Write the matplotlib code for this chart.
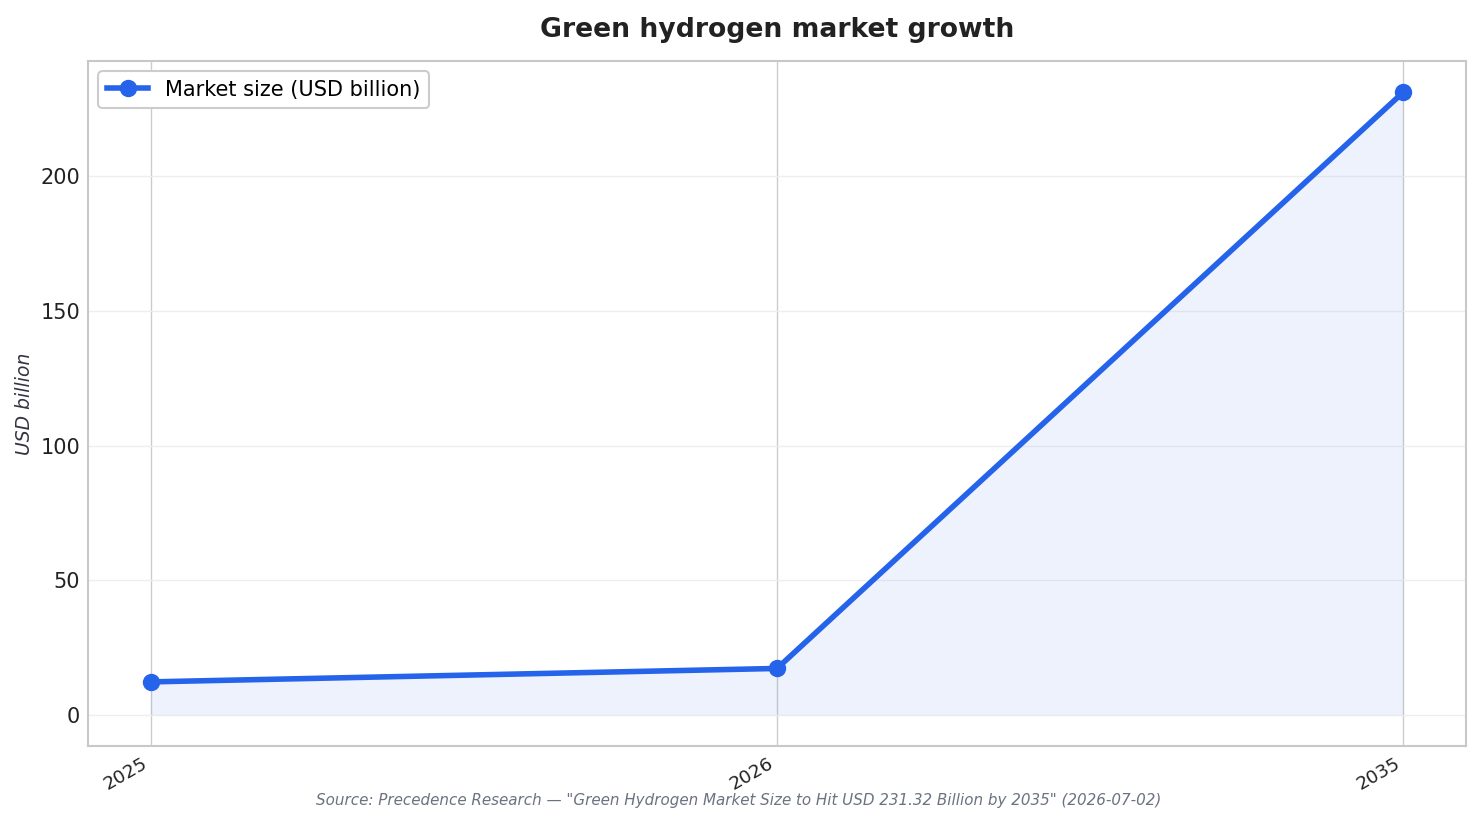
import matplotlib
matplotlib.use('Agg')
import matplotlib.pyplot as plt

# data
years = ["2025", "2026", "2035"]
market_size = [12.25, 17.24, 231.32]

blue = "#2563eb"

fig = plt.figure(figsize=(14.81, 8.24), dpi=100)
ax = fig.add_axes([88/1481, 1 - 746/824, (1466-88)/1481, (746-61)/824])

x = list(range(len(years)))
ax.fill_between(x, market_size, 0, color=blue, alpha=0.08, linewidth=0)
ax.plot(x, market_size, color=blue, linewidth=4, marker="o", markersize=11.5,
        label="Market size (USD billion)", zorder=3)

ax.set_xticks(x)
ax.set_xticklabels(years, rotation=30, ha="right", fontsize=13.3)
ax.tick_params(axis="y", labelsize=15, length=0, pad=5.5, colors="#222222")
ax.tick_params(axis="x", length=0, pad=6, colors="#222222")
ax.set_yticks([0, 50, 100, 150, 200])

ax.grid(axis="x", color="#cccccc", linewidth=1)
ax.grid(axis="y", color="#eeeeee", linewidth=1)
ax.set_axisbelow(True)
for s in ax.spines.values():
    s.set_color("#c8c8c8")
    s.set_linewidth(1.5)

ax.set_ylabel("USD billion", fontsize=13.5, style="italic", color="#333344", labelpad=5)
ax.set_title("Green hydrogen market growth", fontsize=19.2, fontweight="bold",
             color="#222222", pad=17)

leg = ax.legend(loc="upper left", fontsize=15, frameon=True, fancybox=True,
                edgecolor="#cccccc", framealpha=1, borderpad=0.4, handlelength=2)
leg.get_frame().set_linewidth(1.5)

fig.text(0.499, 1 - 800/824,
         'Source: Precedence Research \u2014 "Green Hydrogen Market Size to Hit USD 231.32 Billion by 2035" (2026-07-02)',
         ha="center", va="center", fontsize=10.9, style="italic", color="#6b7280")

fig.savefig("out.png", dpi=100)
